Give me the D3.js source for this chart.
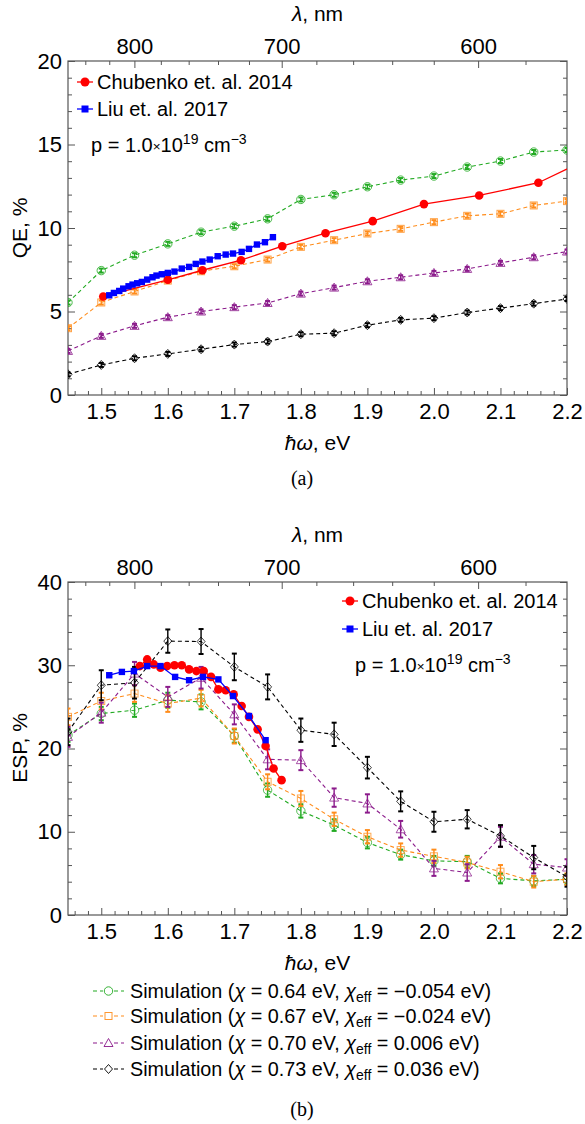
<!DOCTYPE html>
<html><head><meta charset="utf-8">
<script src="https://cdn.jsdelivr.net/npm/d3@7"></script>
<style>
body{margin:0;background:#fff}
text{font-family:"Liberation Sans",Arial,sans-serif;fill:#000}
</style></head>
<body><svg id="c" width="585" height="1124"></svg>
<script>
// ---------- data ----------
const HC = 1239.84;
const eVTicks = [1.5, 1.6, 1.7, 1.8, 1.9, 2.0, 2.1, 2.2];
const lambdaTicks = [800, 700, 600];
const lambdaMinor = [840, 820, 780, 760, 740, 720, 680, 660, 640, 620, 580];
const qeTicks = [0, 5, 10, 15, 20];
const espTicks = [0, 10, 20, 30, 40];

const simE = [1.45, 1.5, 1.55, 1.6, 1.65, 1.7, 1.75, 1.8, 1.85, 1.9, 1.95, 2.0, 2.05, 2.1, 2.15, 2.2];

// QE panel (a)
const qeGreen  = [5.54, 7.45, 8.37, 9.05, 9.75, 10.11, 10.55, 11.71, 11.99, 12.47, 12.87, 13.11, 13.65, 14.01, 14.55, 14.67];
const qeOrange = [4.0, 5.54, 6.2, 6.85, 7.41, 7.71, 8.11, 8.87, 9.27, 9.67, 9.95, 10.35, 10.73, 10.85, 11.35, 11.61];
const qePurple = [2.64, 3.54, 4.14, 4.66, 5.0, 5.26, 5.51, 6.07, 6.43, 6.81, 7.05, 7.31, 7.55, 7.91, 8.25, 8.59];
const qeBlack  = [1.24, 1.8, 2.2, 2.46, 2.74, 3.02, 3.2, 3.64, 3.7, 4.18, 4.5, 4.6, 4.94, 5.2, 5.47, 5.75];
const qeErr    = [0.12, 0.12, 0.12, 0.12, 0.12, 0.12, 0.12, 0.12, 0.12, 0.12, 0.12, 0.12, 0.12, 0.12, 0.12, 0.12];

const qeChubE = [1.503, 1.6, 1.652, 1.71, 1.772, 1.837, 1.908, 1.985, 2.068, 2.157, 2.25];
const qeChub  = [5.9, 6.9, 7.47, 8.07, 8.91, 9.69, 10.41, 11.43, 11.95, 12.71, 14.5];

const qeLiuE = [1.512, 1.519, 1.527, 1.533, 1.541, 1.547, 1.554, 1.561, 1.569, 1.577, 1.583, 1.591, 1.600, 1.610, 1.621, 1.632, 1.642, 1.652, 1.663, 1.675, 1.687, 1.698, 1.711, 1.722, 1.734, 1.746, 1.758];
const qeLiu  = [5.97, 6.11, 6.23, 6.37, 6.51, 6.61, 6.69, 6.77, 6.91, 7.05, 7.15, 7.23, 7.31, 7.39, 7.57, 7.67, 7.85, 7.99, 8.11, 8.31, 8.41, 8.47, 8.57, 8.75, 9.01, 9.15, 9.45];

// ESP panel (b)
const espGreen  = [21.6, 24.2, 24.6, 25.8, 25.6, 21.5, 15.0, 12.5, 10.8, 8.7, 7.25, 6.5, 6.4, 4.4, 4.1, 4.3];
const espOrange = [23.8, 25.7, 26.6, 25.4, 26.05, 21.5, 16.0, 14.0, 11.5, 9.4, 7.8, 7.05, 6.3, 5.2, 4.0, 4.3];
const espPurple = [21.4, 24.3, 29.0, 26.2, 28.5, 24.1, 18.7, 18.6, 14.1, 13.4, 10.3, 5.6, 5.1, 9.4, 6.1, 5.7];
const espBlack  = [22.0, 27.6, 27.9, 32.9, 32.85, 29.8, 27.4, 22.2, 21.7, 17.7, 13.65, 11.2, 11.5, 9.5, 6.9, 4.6];
const espGreenErr  = [0.8, 0.8, 0.8, 0.9, 0.9, 0.8, 0.8, 0.8, 0.7, 0.7, 0.6, 0.6, 0.7, 0.6, 0.6, 0.6];
const espOrangeErr = [1.0, 1.0, 1.0, 1.0, 1.0, 0.9, 0.9, 0.9, 0.8, 0.8, 0.8, 0.8, 0.7, 0.8, 0.7, 0.7];
const espPurpleErr = [1.2, 1.2, 1.4, 1.2, 1.3, 1.2, 1.2, 1.2, 1.1, 1.1, 1.0, 0.9, 1.0, 1.2, 1.1, 1.0];
const espBlackErr  = [1.6, 1.8, 1.9, 1.4, 1.5, 1.6, 1.5, 1.4, 1.4, 1.3, 1.2, 1.2, 1.1, 1.3, 1.4, 1.2];

const espChubE = [1.558, 1.569, 1.579, 1.589, 1.599, 1.610, 1.621, 1.632, 1.643, 1.654, 1.665, 1.676, 1.687, 1.699, 1.711, 1.722, 1.735, 1.747, 1.759, 1.771];
const espChub  = [29.9, 30.7, 30.1, 29.7, 29.9, 30.0, 30.0, 29.5, 29.3, 29.3, 28.6, 27.1, 27.0, 26.5, 25.1, 23.8, 22.3, 20.3, 17.6, 16.2];
const espLiuE = [1.512, 1.531, 1.549, 1.569, 1.589, 1.611, 1.632, 1.653, 1.676, 1.698, 1.722, 1.747];
const espLiu  = [28.8, 29.2, 29.3, 29.9, 29.9, 28.6, 28.2, 28.6, 28.3, 26.3, 23.9, 21.0];

const simNames = ["0.64", "0.67", "0.70", "0.73"];
const simEff = ["\u22120.054", "\u22120.024", "0.006", "0.036"];
const simColors = ["#22aa22", "#ff8c1a", "#8b1a8b", "#000000"];
const simShapes = ["circle", "square", "triangle", "diamond"];

// ---------- drawing ----------
const svg = d3.select("#c");
const x = d3.scaleLinear().domain([1.45, 2.2]).range([68, 567]);
const yA = d3.scaleLinear().domain([0, 20]).range([395, 61]);
const yB = d3.scaleLinear().domain([0, 40]).range([915, 582]);

function styleAxis(sel, fs) {
  sel.select(".domain").remove();
  sel.selectAll(".tick line").attr("stroke", "#555").attr("stroke-width", 1);
  sel.selectAll(".tick text").attr("font-size", fs).attr("font-family", "Liberation Sans, Arial, sans-serif").attr("fill", "#000");
}

function marker(g, shape, cx, cy, color, opacity) {
  let m;
  if (shape === "circle") m = g.append("circle").attr("cx", cx).attr("cy", cy).attr("r", 4.2);
  else if (shape === "square") m = g.append("rect").attr("x", cx - 3.5).attr("y", cy - 3.5).attr("width", 7).attr("height", 7);
  else if (shape === "triangle") m = g.append("path").attr("d", `M${cx},${cy - 4.5}L${cx + 4.5},${cy + 3.5}L${cx - 4.5},${cy + 3.5}Z`);
  else m = g.append("path").attr("d", `M${cx},${cy - 4.5}L${cx + 4},${cy}L${cx},${cy + 4.5}L${cx - 4},${cy}Z`);
  m.attr("fill", "none").attr("stroke", color).attr("stroke-width", 1).attr("stroke-opacity", opacity);
}

function panel(id, y, majors, minorStep, yTitle, yTitleY) {
  const bottom = y.range()[0], top = y.range()[1];
  const g = svg.append("g");
  const eMinor = d3.range(1.46, 2.2, 0.02).filter(v => !eVTicks.some(t => Math.abs(t - v) < 1e-6));
  g.append("g").attr("transform", `translate(0,${bottom})`)
    .call(d3.axisBottom(x).tickValues(eVTicks).tickFormat(d3.format(".1f")).tickSize(-7).tickPadding(8)).call(s => styleAxis(s, 22));
  g.append("g").attr("transform", `translate(0,${bottom})`)
    .call(d3.axisBottom(x).tickValues(eMinor).tickFormat("").tickSize(-4)).call(s => styleAxis(s, 22));
  g.append("g").attr("transform", `translate(0,${top})`)
    .call(d3.axisTop(x).tickValues(lambdaTicks.map(l => HC / l)).tickFormat((d, i) => lambdaTicks[i]).tickSize(-7).tickPadding(7.5)).call(s => styleAxis(s, 22));
  g.append("g").attr("transform", `translate(0,${top})`)
    .call(d3.axisTop(x).tickValues(lambdaMinor.map(l => HC / l)).tickFormat("").tickSize(-4)).call(s => styleAxis(s, 22));
  const ymax = y.domain()[1];
  const yMinor = d3.range(0, ymax, minorStep).filter(v => !majors.includes(v));
  g.append("g").attr("transform", "translate(68,0)")
    .call(d3.axisLeft(y).tickValues(majors).tickSize(-7).tickPadding(6)).call(s => styleAxis(s, 22));
  g.append("g").attr("transform", "translate(68,0)")
    .call(d3.axisLeft(y).tickValues(yMinor).tickFormat("").tickSize(-4)).call(s => styleAxis(s, 22));
  g.append("g").attr("transform", "translate(567,0)")
    .call(d3.axisRight(y).tickValues(majors).tickFormat("").tickSize(-7)).call(s => styleAxis(s, 22));
  g.append("g").attr("transform", "translate(567,0)")
    .call(d3.axisRight(y).tickValues(yMinor).tickFormat("").tickSize(-4)).call(s => styleAxis(s, 22));
  g.append("rect").attr("x", 68).attr("y", top).attr("width", 567 - 68).attr("height", bottom - top)
    .attr("fill", "none").attr("stroke", "#555").attr("stroke-width", 1.2);

  // titles
  const lt = g.append("text").attr("x", 317.5).attr("y", top - 40).attr("text-anchor", "middle").attr("font-size", 21);
  lt.append("tspan").attr("font-style", "italic").text("\u03bb");
  lt.append("tspan").text(", nm");
  const xt = g.append("text").attr("x", 317.5).attr("y", bottom + 55).attr("text-anchor", "middle").attr("font-size", 21);
  xt.append("tspan").attr("font-style", "italic").text("\u0127\u03c9");
  xt.append("tspan").text(", eV");
  g.append("text").attr("transform", `translate(27,${yTitleY}) rotate(-90)`).attr("text-anchor", "middle")
    .attr("font-size", 21).text(yTitle);

  svg.append("clipPath").attr("id", id).append("rect")
    .attr("x", 68).attr("y", top).attr("width", 567 - 68).attr("height", bottom - top);
  return svg.append("g").attr("clip-path", `url(#${id})`);
}

function simSeries(g, y, vals, errs, color, shape, mOpacity) {
  const line = d3.line().x((d, i) => x(simE[i])).y(d => y(d));
  g.append("path").datum(vals).attr("d", line).attr("fill", "none")
    .attr("stroke", color).attr("stroke-width", 1.1).attr("stroke-dasharray", "4,3");
  vals.forEach((v, i) => {
    const cx = x(simE[i]);
    const y1 = y(v - errs[i]), y2 = y(v + errs[i]);
    g.append("line").attr("x1", cx).attr("x2", cx).attr("y1", y1).attr("y2", y2).attr("stroke", color).attr("stroke-width", 1.4);
    g.append("line").attr("x1", cx - 2.5).attr("x2", cx + 2.5).attr("y1", y1).attr("y2", y1).attr("stroke", color).attr("stroke-width", 2);
    g.append("line").attr("x1", cx - 2.5).attr("x2", cx + 2.5).attr("y1", y2).attr("y2", y2).attr("stroke", color).attr("stroke-width", 2);
    marker(g, shape, cx, y(v), color, mOpacity);
  });
}

function expSeries(g, y, es, vs, color, kind, size) {
  const line = d3.line().x((d, i) => x(es[i])).y(d => y(d));
  g.append("path").datum(vs).attr("d", line).attr("fill", "none").attr("stroke", color).attr("stroke-width", 1.3);
  vs.forEach((v, i) => {
    if (kind === "circle") g.append("circle").attr("cx", x(es[i])).attr("cy", y(v)).attr("r", size).attr("fill", color);
    else g.append("rect").attr("x", x(es[i]) - size).attr("y", y(v) - size).attr("width", 2 * size).attr("height", 2 * size).attr("fill", color);
  });
}

function pLabel(px, py) {
  const t = svg.append("text").attr("x", px).attr("y", py).attr("font-size", 20);
  t.append("tspan").text("p = 1.0");
  t.append("tspan").attr("font-size", 13.5).attr("dy", -1).text("\u00d7");
  t.append("tspan").attr("dy", 1).text("10");
  t.append("tspan").attr("font-size", 14).attr("dy", -8).text("19");
  t.append("tspan").attr("dy", 8).text(" cm");
  t.append("tspan").attr("font-size", 14).attr("dy", -8).text("\u22123");
}

function expLegend(lx, ly, color, kind, label) {
  svg.append("line").attr("x1", lx - 8).attr("x2", lx + 8).attr("y1", ly).attr("y2", ly).attr("stroke", color).attr("stroke-width", 1.3);
  if (kind === "circle") svg.append("circle").attr("cx", lx).attr("cy", ly).attr("r", 4.5).attr("fill", color);
  else svg.append("rect").attr("x", lx - 3.5).attr("y", ly - 3.5).attr("width", 7).attr("height", 7).attr("fill", color);
  svg.append("text").attr("x", lx + 12).attr("y", ly + 7).attr("font-size", 20).text(label);
}

// ----- Panel (a) -----
const gA = panel("clipA", yA, qeTicks, 1, "QE, %", 228);
const qeSims = [qeGreen, qeOrange, qePurple, qeBlack];
qeSims.forEach((s, k) => simSeries(gA, yA, s, qeErr, simColors[k], simShapes[k], 0.8));
expSeries(gA, yA, qeChubE, qeChub, "#ff0000", "circle", 4.3);
expSeries(gA, yA, qeLiuE, qeLiu, "#0000ff", "square", 3.2);
expLegend(85, 82, "#ff0000", "circle", "Chubenko et. al. 2014");
expLegend(85, 109, "#0000ff", "square", "Liu et. al. 2017");
pLabel(91, 152);
svg.append("text").attr("x", 302).attr("y", 485).attr("text-anchor", "middle")
  .attr("font-size", 20).style("font-family", "Liberation Serif, serif").text("(a)");

// ----- Panel (b) -----
const gB = panel("clipB", yB, espTicks, 2, "ESP, %", 748);
const espSims = [espGreen, espOrange, espPurple, espBlack];
const espErrs = [espGreenErr, espOrangeErr, espPurpleErr, espBlackErr];
espSims.forEach((s, k) => simSeries(gB, yB, s, espErrs[k], simColors[k], simShapes[k], 0.75));
expSeries(gB, yB, espChubE, espChub, "#ff0000", "circle", 4.3);
expSeries(gB, yB, espLiuE, espLiu, "#0000ff", "square", 3.2);
expLegend(350, 601, "#ff0000", "circle", "Chubenko et. al. 2014");
expLegend(350, 629, "#0000ff", "square", "Liu et. al. 2017");
pLabel(355, 672);

// simulation legend
const legY = [991, 1016, 1043, 1069];
simNames.forEach((nm, k) => {
  const ly = legY[k];
  svg.append("line").attr("x1", 93).attr("x2", 124).attr("y1", ly).attr("y2", ly)
    .attr("stroke", simColors[k]).attr("stroke-width", 1.1).attr("stroke-dasharray", "4,3");
  svg.append("rect").attr("x", 103).attr("y", ly - 5).attr("width", 11).attr("height", 10).attr("fill", "#fff");
  marker(svg, simShapes[k], 108.5, ly, simColors[k], 0.9);
  const t = svg.append("text").attr("x", 130).attr("y", ly + 7).attr("font-size", 19.8);
  t.append("tspan").text("Simulation (");
  t.append("tspan").attr("font-style", "italic").text("\u03c7");
  t.append("tspan").text(" = " + nm + " eV, ");
  t.append("tspan").attr("font-style", "italic").text("\u03c7");
  t.append("tspan").attr("font-size", 14).attr("dy", 4).text("eff");
  t.append("tspan").attr("dy", -4).text(" = " + simEff[k] + " eV)");
});
svg.append("text").attr("x", 302).attr("y", 1116).attr("text-anchor", "middle")
  .attr("font-size", 20).style("font-family", "Liberation Serif, serif").text("(b)");
</script></body></html>
